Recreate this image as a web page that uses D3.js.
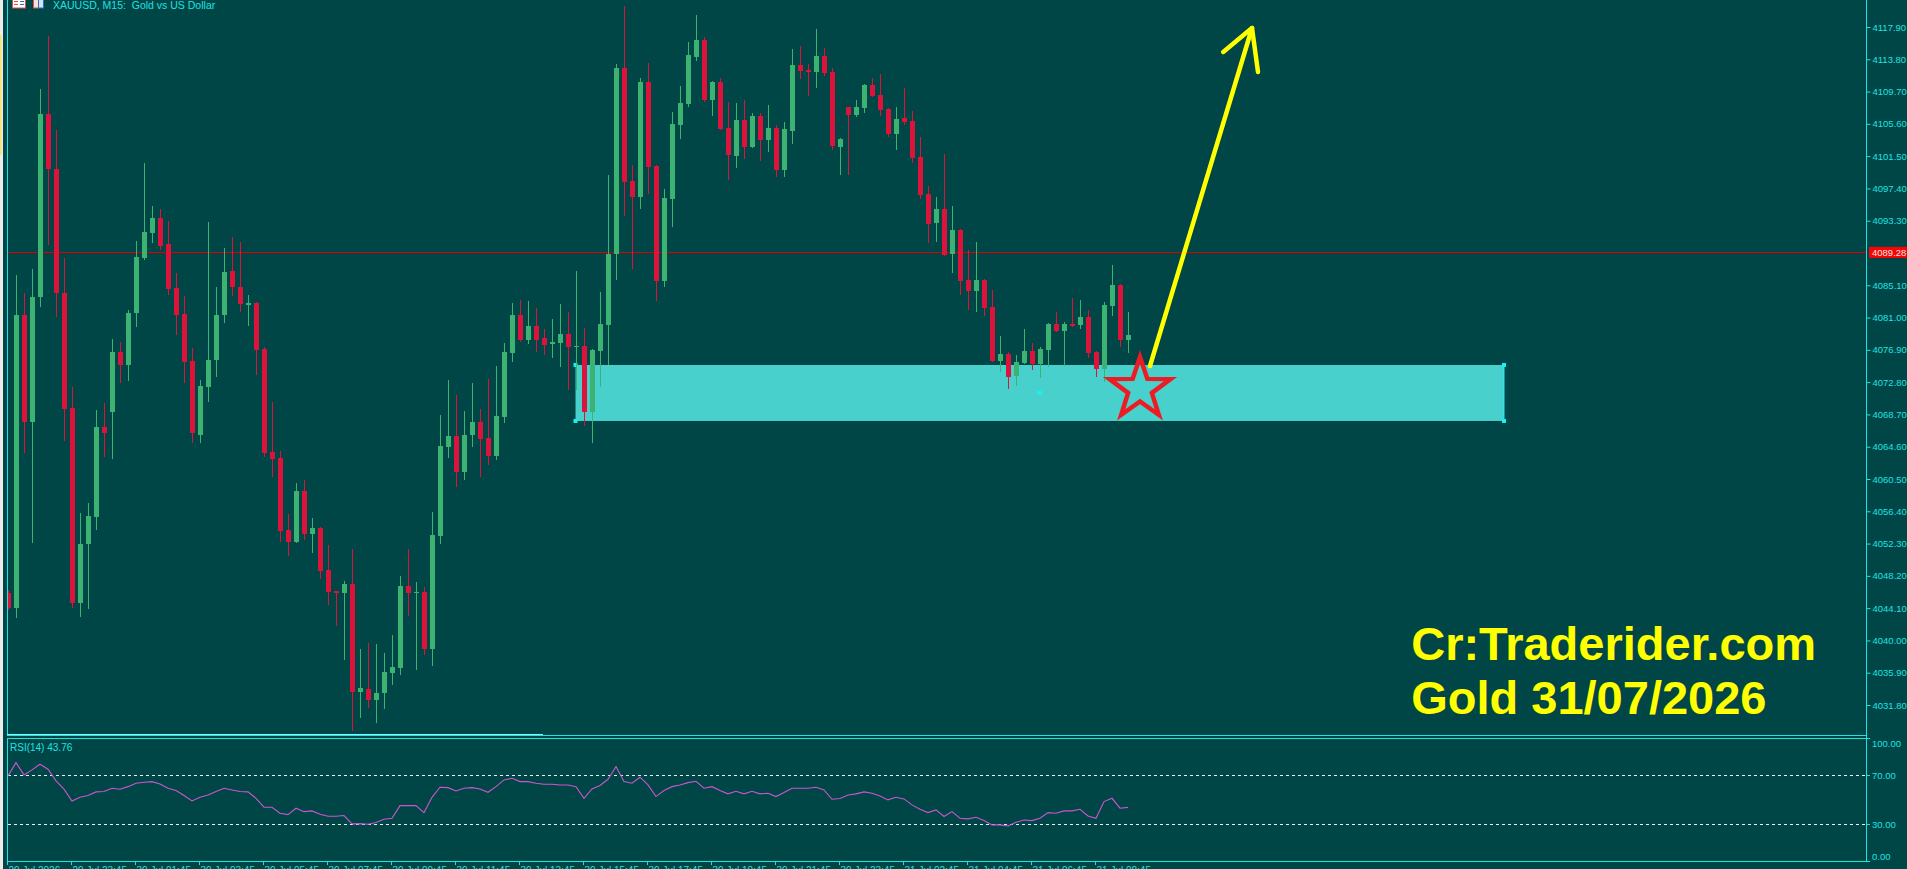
<!DOCTYPE html>
<html>
<head>
<meta charset="utf-8">
<script src="https://cdn.jsdelivr.net/npm/d3@7"></script>
<style>
  html, body { margin: 0; padding: 0; background: #014646; overflow: hidden; }
  svg { display: block; }
  text { white-space: pre; }
</style>
</head>
<body>
<svg id="chart" width="1907" height="869"></svg>
<script>
// ---------------- data (XAUUSD M15) ----------------
const opens = [4046.02,4044.11,4081.32,4067.74,4083.61,4106.85,4099.87,4084.12,4069.51,4044.75,
  4052.24,4055.67,4067.10,4069.01,4076.63,4074.97,4081.58,4088.56,4091.74,4093.64,
  4090.34,4084.75,4081.45,4075.48,4066.08,4072.18,4075.61,4081.32,4086.91,4084.88,
  4082.59,4082.85,4077.01,4063.93,4063.16,4054.02,4052.50,4058.97,4053.51,4054.27,
  4048.94,4046.27,4046.02,4047.16,4033.45,4033.83,4032.43,4033.32,4035.86,4036.49,
  4046.91,4046.02,4046.15,4038.91,4053.26,4064.56,4065.96,4061.39,4066.08,4067.74,
  4065.70,4063.42,4068.37,4076.50,4081.32,4078.15,4079.93,4078.40,4077.64,4077.77,
  4078.91,4077.26,4077.39,4069.01,4076.75,4080.05,4089.07,4112.69,4098.34,4096.31,
  4110.92,4100.25,4085.64,4096.06,4105.45,4108.12,4114.09,4116.25,4108.63,4110.92,
  4105.07,4101.52,4106.09,4102.66,4106.60,4103.55,4105.07,4099.74,4104.69,4113.07,
  4112.44,4112.19,4114.22,4112.19,4102.66,4107.74,4106.72,4107.61,4110.53,4109.26,
  4107.49,4104.31,4106.34,4105.96,4101.39,4096.69,4093.01,4094.79,4089.07,4092.12,
  4085.77,4084.37,4085.77,4082.34,4075.48,4076.37,4073.58,4075.23,4076.75,4075.10,
  4076.88,4080.18,4079.29,4080.18,4080.05,4081.07,4076.63,4074.47,4082.47,4085.13,
  4078.15];
const highs = [4046.40,4086.40,4084.12,4087.17,4110.03,4116.76,4104.82,4088.56,4072.18,4056.18,
  4057.45,4069.26,4070.15,4078.28,4077.90,4081.96,4090.72,4100.63,4095.17,4094.79,
  4093.26,4086.66,4083.74,4077.13,4073.07,4093.14,4084.88,4089.83,4091.23,4090.60,
  4083.86,4082.98,4077.26,4070.28,4064.05,4056.05,4059.99,4060.37,4055.54,4054.40,
  4052.11,4046.27,4047.54,4051.61,4038.91,4039.67,4039.54,4038.40,4040.68,4048.18,
  4051.61,4047.42,4046.78,4056.31,4068.62,4073.07,4071.16,4069.13,4072.69,4069.39,
  4073.20,4074.85,4077.77,4082.85,4083.23,4083.10,4082.21,4079.55,4080.82,4082.72,
  4081.71,4086.91,4079.67,4077.01,4084.25,4099.10,4113.20,4120.57,4100.37,4111.42,
  4113.33,4100.37,4097.33,4107.11,4110.41,4116.00,4119.42,4116.63,4111.04,4111.42,
  4108.38,4108.25,4108.63,4106.98,4106.98,4107.99,4105.45,4105.84,4115.11,4115.49,
  4113.20,4117.65,4115.23,4112.69,4103.80,4107.74,4108.63,4110.66,4111.42,4111.93,
  4107.61,4107.74,4110.15,4107.23,4103.93,4097.71,4096.31,4101.77,4095.17,4092.25,
  4089.58,4090.60,4085.90,4084.50,4078.66,4076.63,4076.24,4079.55,4077.77,4077.26,
  4080.31,4081.71,4080.44,4083.48,4083.23,4081.96,4076.75,4082.98,4087.67,4085.26,
  4081.71];
const lows = [4043.86,4042.84,4063.80,4052.37,4082.34,4090.21,4081.07,4065.32,4044.11,4042.97,
  4043.99,4054.02,4063.29,4063.04,4072.69,4072.94,4079.80,4088.31,4090.47,4089.58,
  4083.86,4078.78,4072.69,4065.07,4065.07,4070.28,4073.45,4080.31,4083.74,4081.71,
  4079.93,4073.70,4063.29,4060.75,4052.50,4050.72,4052.37,4052.75,4051.10,4047.80,
  4044.49,4041.83,4037.51,4028.49,4030.14,4031.41,4029.51,4031.29,4034.33,4035.60,
  4043.10,4036.24,4038.14,4036.75,4052.24,4063.16,4059.48,4060.37,4064.56,4060.75,
  4062.27,4062.91,4067.61,4075.36,4077.90,4077.64,4076.63,4076.24,4075.86,4074.72,
  4071.80,4071.80,4067.23,4065.07,4072.18,4074.97,4085.77,4093.90,4087.17,4094.79,
  4096.69,4083.10,4084.88,4092.50,4103.68,4107.74,4113.58,4108.38,4106.60,4104.82,
  4098.47,4099.99,4101.14,4102.53,4100.88,4102.03,4098.85,4098.85,4103.04,4111.30,
  4109.14,4110.15,4111.68,4102.28,4099.10,4099.10,4106.47,4106.98,4109.01,4106.60,
  4103.93,4102.28,4105.45,4100.63,4096.06,4090.47,4090.60,4088.82,4086.66,4083.86,
  4081.96,4081.71,4081.20,4075.36,4074.09,4071.93,4072.31,4075.10,4074.34,4073.32,
  4074.72,4079.17,4074.85,4079.80,4079.55,4075.86,4073.45,4072.82,4081.20,4077.26,
  4076.50];
const closes = [4044.11,4081.32,4067.74,4083.61,4106.85,4099.87,4084.12,4069.39,4044.75,4052.24,
  4055.80,4067.10,4066.34,4076.63,4074.97,4081.58,4088.69,4091.87,4093.64,4090.09,
  4084.63,4081.32,4075.36,4066.34,4072.31,4075.61,4081.32,4086.79,4084.88,4082.72,
  4082.85,4076.88,4063.80,4063.04,4053.89,4052.50,4058.97,4053.51,4054.27,4048.81,
  4046.15,4046.02,4047.16,4033.45,4033.95,4032.43,4033.32,4035.99,4036.62,4046.91,
  4046.02,4046.15,4038.91,4053.38,4064.69,4065.96,4061.39,4066.08,4067.74,4065.58,
  4063.42,4068.50,4076.63,4081.32,4078.15,4079.93,4078.15,4077.51,4077.90,4078.91,
  4077.26,4077.39,4069.01,4076.88,4080.18,4089.07,4112.69,4098.22,4096.31,4110.92,
  4100.12,4085.64,4096.18,4105.58,4108.25,4114.34,4116.25,4108.63,4110.92,4104.95,
  4101.64,4106.09,4102.66,4106.60,4103.55,4105.07,4099.74,4104.95,4113.07,4112.31,
  4112.19,4114.22,4112.06,4102.79,4103.68,4106.72,4107.74,4110.53,4109.14,4107.36,
  4104.31,4106.22,4105.84,4101.26,4096.56,4092.88,4094.79,4088.94,4092.12,4085.64,
  4084.37,4085.77,4082.21,4075.48,4076.37,4073.45,4075.36,4076.75,4075.10,4077.01,
  4080.18,4079.29,4080.18,4079.93,4081.07,4076.50,4074.47,4082.59,4085.13,4078.15,
  4078.78];
const rsiValues = [69.5,80.3,70.3,74.4,79.0,74.9,65.4,58.6,49.0,52.0,
  53.4,56.4,56.7,59.4,58.6,60.7,63.5,64.3,64.8,62.9,
  59.4,57.5,53.4,49.0,52.0,53.9,56.7,59.4,58.0,56.7,
  56.4,51.2,43.9,43.9,39.0,37.9,43.1,40.3,40.9,38.2,
  36.5,36.5,37.1,30.3,30.5,30.0,31.4,34.1,34.9,45.2,
  45.2,45.2,39.5,52.0,60.2,59.9,57.2,59.4,59.9,58.8,
  56.1,60.7,66.2,67.5,64.8,64.8,63.5,62.7,62.7,62.1,
  62.1,60.7,51.2,58.8,61.6,66.7,77.1,64.8,63.5,68.4,
  62.1,52.6,57.5,60.7,62.1,64.0,65.1,59.4,60.7,57.5,
  54.8,56.9,54.8,56.9,54.8,55.3,52.6,55.9,59.4,59.4,
  59.4,60.2,58.0,50.4,51.0,53.9,54.8,56.4,55.3,53.1,
  49.9,52.0,50.7,45.8,42.2,39.5,41.7,36.3,40.3,34.9,
  34.4,35.7,33.0,29.5,29.5,28.6,31.6,33.5,33.0,34.9,
  39.5,39.0,40.9,40.9,42.2,36.8,34.9,48.5,51.2,43.1,
  43.76];

const priceTicks = [4117.9,4113.8,4109.7,4105.6,4101.5,4097.4,4093.3,4085.1,4081.0,4076.9,
  4072.8,4068.7,4064.6,4060.5,4056.4,4052.3,4048.2,4044.1,4040.0,4035.9,4031.8];
const rsiTicks = [100, 70, 30, 0];
const rsiLevels = [70, 30];
const timeLabels = ["29 Jul 2026","29 Jul 23:45","30 Jul 01:45","30 Jul 03:45","30 Jul 05:45",
  "30 Jul 07:45","30 Jul 09:45","30 Jul 11:45","30 Jul 13:45","30 Jul 15:45","30 Jul 17:45",
  "30 Jul 19:45","30 Jul 21:45","30 Jul 23:45","31 Jul 02:45","31 Jul 04:45","31 Jul 06:45",
  "31 Jul 08:45"];
const barsPerLabel = 8;
const lastPrice = 4089.28;
// support zone: bar index range and price range
const zoneBars = [70.94, 187];
const zonePrices = [4074.98, 4067.87];
// star and arrow anchors (bar index, price)
const starPoint = [141.5, 4071.93];
const arrowLine = [[142.75, 4074.85], [155.5, 4117.77]];
const arrowHead = [[151.9, 4114.73], [155.5, 4117.77], [156.25, 4112.19]];
const noteLines = ["Cr:Traderider.com", "Gold 31/07/2026"];
const noteAnchor = [175.4, 4037.51];

// ---------------- layout ----------------
const W = 1907, H = 869;
const axisX = 1866;
const mainBottom = 735.5, rsiTop = 738.5, rsiBottom = 861;
const bg = "#014646", fg = "#1fe3e3";
const up = "#3cb371", down = "#dc143c";
const font = "'Liberation Sans', Arial, sans-serif";

const svg = d3.select("#chart");

const x = d3.scaleLinear().domain([0, 140]).range([8, 1128]);
const y = d3.scaleLinear().domain([4031.8, 4117.9]).range([705, 27]);
const yR = d3.scaleLinear().domain([0, 100]).range([rsiBottom, rsiTop]);

svg.append("rect").attr("width", W).attr("height", H).attr("fill", bg);

const defs = svg.append("defs");
defs.append("clipPath").attr("id", "clipMain")
  .append("rect").attr("x", 8).attr("y", 0).attr("width", axisX - 8).attr("height", mainBottom);
defs.append("clipPath").attr("id", "clipRsi")
  .append("rect").attr("x", 8).attr("y", rsiTop + 1).attr("width", axisX - 8).attr("height", rsiBottom - rsiTop - 1);

// window edge on the far left
svg.append("rect").attr("x", 0).attr("y", 0).attr("width", 3).attr("height", H).attr("fill", "#ececec");
svg.append("rect").attr("x", 0).attr("y", 35).attr("width", 2).attr("height", 120).attr("fill", "#f3e38a");

const main = svg.append("g").attr("clip-path", "url(#clipMain)");

// support zone (background object)
main.append("rect")
  .attr("x", x(zoneBars[0])).attr("width", x(zoneBars[1]) - x(zoneBars[0]))
  .attr("y", y(zonePrices[0])).attr("height", y(zonePrices[1]) - y(zonePrices[0]))
  .attr("fill", "#48d1cc");
const handles = [
  [zoneBars[0], zonePrices[0]], [zoneBars[0], zonePrices[1]],
  [zoneBars[1], zonePrices[0]], [zoneBars[1], zonePrices[1]],
  [(zoneBars[0] + zoneBars[1]) / 2, (zonePrices[0] + zonePrices[1]) / 2]
];
main.selectAll("rect.handle").data(handles).enter().append("rect")
  .attr("class", "handle")
  .attr("x", d => x(d[0]) - 2).attr("y", d => y(d[1]) - 2)
  .attr("width", 4).attr("height", 4).attr("fill", "#14f4f4");
main.append("line")
  .attr("x1", x(zoneBars[1])).attr("x2", x(zoneBars[1]))
  .attr("y1", y(zonePrices[0])).attr("y2", y(zonePrices[1]))
  .attr("stroke", "#14f4f4").attr("stroke-width", 1);

// last price line
main.append("line")
  .attr("x1", 8).attr("x2", axisX)
  .attr("y1", Math.round(y(lastPrice)) + 0.5).attr("y2", Math.round(y(lastPrice)) + 0.5)
  .attr("stroke", "#de0000").attr("stroke-width", 1);

// candles
const bars = d3.range(opens.length).map(i => ({
  i, o: opens[i], h: highs[i], l: lows[i], c: closes[i]
}));
const cg = main.append("g").attr("shape-rendering", "crispEdges");
cg.selectAll("rect.wick").data(bars).enter().append("rect")
  .attr("class", "wick")
  .attr("x", d => Math.round(x(d.i)))
  .attr("width", 1)
  .attr("y", d => Math.round(y(d.h)))
  .attr("height", d => Math.max(1, Math.round(y(d.l)) - Math.round(y(d.h))))
  .attr("fill", d => d.c >= d.o ? up : down);
cg.selectAll("rect.body").data(bars).enter().append("rect")
  .attr("class", "body")
  .attr("x", d => Math.round(x(d.i)) - 2)
  .attr("width", 5)
  .attr("y", d => Math.round(y(Math.max(d.o, d.c))))
  .attr("height", d => Math.max(1, Math.round(y(Math.min(d.o, d.c))) - Math.round(y(Math.max(d.o, d.c)))))
  .attr("fill", d => d.c >= d.o ? up : down);

// star
const R = 32, r = 12.5;
const [sx, sy] = [x(starPoint[0]), y(starPoint[1])];
const starPts = d3.range(10).map(k => {
  const a = -Math.PI / 2 + k * Math.PI / 5;
  const rad = k % 2 === 0 ? R : r;
  return [sx + rad * Math.cos(a), sy + rad * Math.sin(a)];
});
main.append("polygon")
  .attr("points", starPts.map(p => p.join(",")).join(" "))
  .attr("fill", "none").attr("stroke", "#ed1c24").attr("stroke-width", 4.5)
  .attr("stroke-linejoin", "miter");

// arrow
const lineGen = d3.line().x(d => x(d[0])).y(d => y(d[1]));
main.append("path").attr("d", lineGen(arrowLine))
  .attr("fill", "none").attr("stroke", "#ffff00").attr("stroke-width", 4.5).attr("stroke-linecap", "round");
main.append("path").attr("d", lineGen(arrowHead))
  .attr("fill", "none").attr("stroke", "#ffff00").attr("stroke-width", 4.5)
  .attr("stroke-linecap", "round").attr("stroke-linejoin", "round");

// watermark note
const note = main.append("g").attr("font-family", font).attr("font-weight", "bold").attr("fill", "#ffff00");
note.append("text").attr("x", x(noteAnchor[0])).attr("y", y(noteAnchor[1]))
  .attr("font-size", 47).text(noteLines[0]);
note.append("text").attr("x", x(noteAnchor[0])).attr("y", y(noteAnchor[1]) + 54)
  .attr("font-size", 47).text(noteLines[1]);

// header
svg.append("text").attr("x", 53).attr("y", 9)
  .attr("font-family", font).attr("font-size", 10.5).attr("fill", fg)
  .text("XAUUSD, M15:  Gold vs US Dollar");
const ic = svg.append("g");
ic.append("rect").attr("x", 12.5).attr("y", -1).attr("width", 13).attr("height", 9).attr("fill", "#fff").attr("stroke", "#d9534f");
[1.5, 4.5].forEach(dy => {
  ic.append("line").attr("x1", 14).attr("x2", 18).attr("y1", dy).attr("y2", dy).attr("stroke", "#d9534f");
  ic.append("line").attr("x1", 20).attr("x2", 24).attr("y1", dy).attr("y2", dy).attr("stroke", "#2f6fb5");
});
ic.append("rect").attr("x", 33.5).attr("y", -1).attr("width", 5).attr("height", 9).attr("fill", "#fde0d8").attr("stroke", "#d9534f");
ic.append("rect").attr("x", 38.5).attr("y", -1).attr("width", 5).attr("height", 9).attr("fill", "#cfe3f7").attr("stroke", "#2f6fb5");

// RSI panel
const rsiG = svg.append("g").attr("clip-path", "url(#clipRsi)");
rsiG.selectAll("line.level").data(rsiLevels).enter().append("line")
  .attr("x1", 8).attr("x2", axisX)
  .attr("y1", d => Math.round(yR(d)) + 0.5).attr("y2", d => Math.round(yR(d)) + 0.5)
  .attr("stroke", "#f0f0f0").attr("stroke-dasharray", "3,3").attr("stroke-width", 1);
rsiG.append("path")
  .attr("d", d3.line().x((d, i) => x(i)).y(d => yR(d))(rsiValues))
  .attr("fill", "none").attr("stroke", "#cc55cc").attr("stroke-width", 1.1);
svg.append("text").attr("x", 10).attr("y", 751)
  .attr("font-family", font).attr("font-size", 10).attr("fill", fg)
  .text("RSI(14) " + d3.format(".2f")(rsiValues[rsiValues.length - 1]));

// frames
const frame = svg.append("g").attr("stroke", fg).attr("stroke-width", 1).attr("shape-rendering", "crispEdges");
frame.append("line").attr("x1", 7.5).attr("x2", 7.5).attr("y1", 0).attr("y2", mainBottom);
frame.append("line").attr("x1", 7.5).attr("x2", 7.5).attr("y1", rsiTop).attr("y2", rsiBottom);
frame.append("line").attr("x1", 7).attr("x2", axisX).attr("y1", mainBottom).attr("y2", mainBottom);
frame.append("line").attr("x1", 7).attr("x2", 543).attr("y1", mainBottom - 1).attr("y2", mainBottom - 1).attr("stroke", "#8af6f6");
frame.append("line").attr("x1", 7).attr("x2", axisX).attr("y1", rsiTop).attr("y2", rsiTop);
frame.append("line").attr("x1", 7).attr("x2", axisX).attr("y1", rsiBottom + 0.5).attr("y2", rsiBottom + 0.5);
frame.append("line").attr("x1", axisX + 0.5).attr("x2", axisX + 0.5).attr("y1", 0).attr("y2", rsiBottom + 1);

// price axis
const yAxis = d3.axisRight(y).tickValues(priceTicks).tickFormat(d3.format(".2f")).tickSize(4).tickPadding(2);
const ya = svg.append("g").attr("transform", `translate(${axisX + 0.5},0)`).call(yAxis);
ya.select(".domain").remove();
ya.selectAll("line").attr("stroke", fg);
ya.selectAll("text").attr("fill", fg).attr("font-family", font).attr("font-size", 9.5);

// last price tag
svg.append("rect").attr("x", axisX + 3).attr("y", y(lastPrice) - 5.5).attr("width", 40).attr("height", 11).attr("fill", "#ff0000");
svg.append("text").attr("x", axisX + 6).attr("y", y(lastPrice) + 3.5)
  .attr("font-family", font).attr("font-size", 9.5).attr("fill", "#e8e8e8")
  .text(d3.format(".2f")(lastPrice));

// RSI axis
const ra = svg.append("g").attr("font-family", font).attr("font-size", 9.5).attr("fill", fg);
rsiTicks.forEach(v => {
  const ty = v === 100 ? rsiTop : Math.round(yR(v)) + 0.5;
  ra.append("line").attr("x1", axisX).attr("x2", axisX + 4).attr("y1", ty).attr("y2", ty).attr("stroke", fg);
  const off = v === 100 ? 8 : (v === 0 ? -2 : 3.5);
  ra.append("text").attr("x", axisX + 6).attr("y", ty + off).text(d3.format(".2f")(v));
});

// time axis (labels run off the bottom edge, as in the screenshot)
const ta = svg.append("g").attr("font-family", font).attr("font-size", 10).attr("fill", fg);
timeLabels.forEach((t, k) => {
  const tx = Math.round(x(k * barsPerLabel)) - 0.5;
  ta.append("line").attr("x1", tx).attr("x2", tx).attr("y1", rsiBottom).attr("y2", rsiBottom + 4).attr("stroke", fg);
  ta.append("text").attr("x", tx + 1).attr("y", 874).text(t);
});
</script>
</body>
</html>
